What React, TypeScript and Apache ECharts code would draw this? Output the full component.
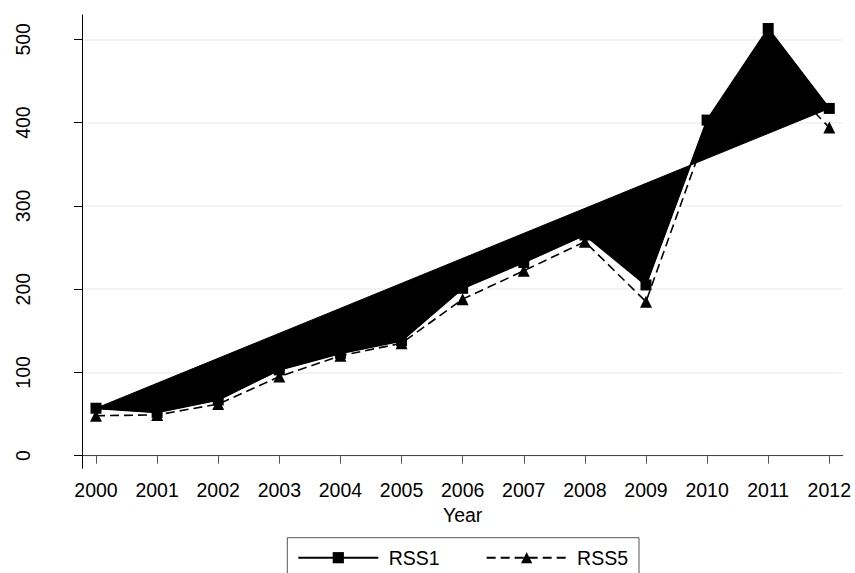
import React, { useEffect, useRef } from "react";
import * as echarts from "echarts";

const years = [2000, 2001, 2002, 2003, 2004, 2005, 2006, 2007, 2008, 2009, 2010, 2011, 2012];
const rss1 = [57, 52, 67, 103, 123, 138, 201, 232, 265, 205, 403, 513, 417];
const rss5 = [48, 49, 62, 95, 120, 135, 188, 222, 257, 185, 390, 470, 394];
const yTicks = [0, 100, 200, 300, 400, 500];
const seriesNames = ["RSS1", "RSS5"];

const FONT = "'Liberation Sans', Arial, sans-serif";

export default function App() {
  const ref = useRef<HTMLDivElement>(null);
  useEffect(() => {
    document.body.style.margin = "0";
    if (!ref.current) return;
    const chart = echarts.init(ref.current, null, { renderer: "svg" });
    const option: any = {
      animation: false,
      backgroundColor: "#ffffff",
      textStyle: { fontFamily: FONT },
      grid: [
        { left: 96, right: 25.7, top: 39.3, bottom: 117.3, containLabel: false },
        { left: 82.7, right: 12.3, top: 15, bottom: 104.7, containLabel: false },
      ],
      xAxis: [
        {
          type: "value",
          gridIndex: 0,
          min: years[0],
          max: years[years.length - 1],
          interval: 1,
          offset: 12.6,
          axisLine: { show: false },
          axisTick: { show: true, length: 8, lineStyle: { color: "#555", width: 1 } },
          axisLabel: {
            show: true,
            fontSize: 19.5,
            color: "#000",
            margin: 12,
            fontFamily: FONT,
            formatter: (v: number) => String(v),
          },
          splitLine: { show: false },
          name: "Year",
          nameLocation: "middle",
          nameGap: 34,
          nameTextStyle: { fontSize: 19.5, color: "#000", fontFamily: FONT },
        },
        {
          type: "value",
          gridIndex: 1,
          min: 0,
          max: 1,
          axisLine: { show: true, lineStyle: { color: "#444", width: 1.2 } },
          axisTick: { show: false },
          axisLabel: { show: false },
          splitLine: { show: false },
        },
      ],
      yAxis: [
        {
          type: "value",
          gridIndex: 0,
          min: yTicks[0],
          max: yTicks[yTicks.length - 1],
          interval: 100,
          offset: 13.3,
          axisLine: { show: false },
          axisTick: { show: true, length: 8.7, lineStyle: { color: "#000", width: 1 } },
          axisLabel: {
            show: true,
            rotate: 90,
            fontSize: 19.5,
            color: "#000",
            margin: 50,
            fontFamily: FONT,
            formatter: (v: number) => String(v),
          },
          splitLine: { show: false },
        },
        {
          type: "value",
          gridIndex: 1,
          min: -15.13,
          max: 529.2,
          splitNumber: 5,
          axisLine: { show: true, lineStyle: { color: "#000", width: 1 } },
          axisTick: { show: false },
          axisLabel: { show: false },
          splitLine: {
            show: true,
            showMinLine: false,
            showMaxLine: false,
            lineStyle: { color: "#eaf2f3", width: 1.5 },
          },
        },
      ],
      legend: {
        data: seriesNames,
        left: 287.3,
        top: 537.7,
        orient: "horizontal",
        padding: [10, 11, 10, 10],
        itemWidth: 80,
        itemHeight: 14,
        itemGap: 46,
        borderColor: "#555",
        borderWidth: 1,
        selectedMode: false,
        formatter: (n: string) => " " + n,
        textStyle: { fontSize: 19.5, color: "#000", fontFamily: FONT },
      },
      series: [
        {
          name: "RSS1 area",
          type: "custom",
          xAxisIndex: 0,
          yAxisIndex: 0,
          silent: true,
          clip: false,
          z: 1,
          data: [[years[0], rss1[0]]],
          renderItem: (params: any, api: any) => {
            const pts = years.map((yr, i) => api.coord([yr, rss1[i]]));
            return {
              type: "polygon",
              shape: { points: pts },
              style: { fill: "#000", stroke: "#000", lineWidth: 1 },
            };
          },
        },
        {
          name: seriesNames[0],
          type: "line",
          xAxisIndex: 0,
          yAxisIndex: 0,
          z: 3,
          clip: false,
          data: years.map((y, i) => [y, rss1[i]]),
          symbol: "rect",
          symbolSize: 11,
          lineStyle: { color: "#000", width: 1.8, type: "solid" },
          itemStyle: { color: "#000" },
        },
        {
          name: seriesNames[1],
          type: "line",
          xAxisIndex: 0,
          yAxisIndex: 0,
          z: 2,
          clip: false,
          data: years.map((y, i) => [y, rss5[i]]),
          symbol: "triangle",
          symbolSize: 12,
          lineStyle: { color: "#000", width: 1.6, type: [9, 5] },
          itemStyle: { color: "#000" },
        },
      ],
    };
    chart.setOption(option);
    return () => chart.dispose();
  }, []);
  return <div ref={ref} style={{ width: 855, height: 573 }} />;
}
